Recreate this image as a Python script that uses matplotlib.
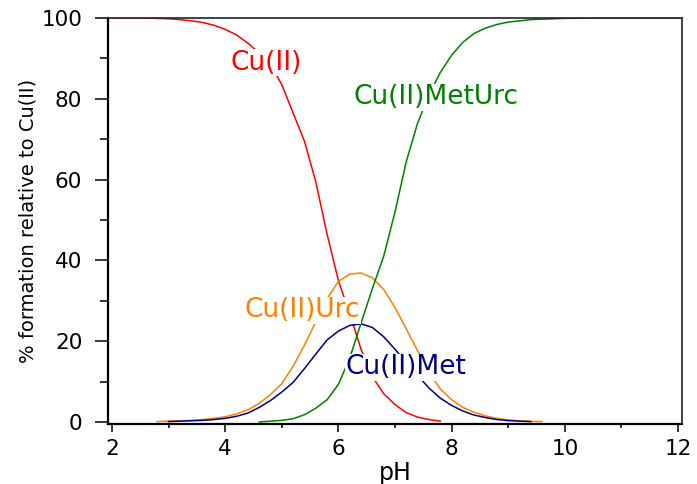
import matplotlib
matplotlib.use("Agg")
import matplotlib.pyplot as plt
from matplotlib.ticker import MultipleLocator

plt.rcParams['font.family'] = ['DejaVu Sans']

# species distribution (pH, % formation)
ph_cu = [2.0, 2.2, 2.4, 2.6, 2.8, 3.0, 3.2, 3.4, 3.6, 3.8, 4.0, 4.2, 4.4, 4.6, 4.8,
         5.0, 5.2, 5.4, 5.6, 5.8, 6.0, 6.2, 6.4, 6.6, 6.8, 7.0, 7.2, 7.4, 7.6, 7.8]
cu = [100, 100, 100, 100, 99.9, 99.8, 99.6, 99.3, 98.9, 98.2, 97.2, 95.8, 93.8, 91.3, 88.5,
      83.5, 76.5, 69.5, 59.5, 46.5, 35.0, 26.8, 18.0, 11.2, 7.0, 4.3, 2.3, 1.2, 0.6, 0.2]

ph_urc = [2.8, 3.0, 3.2, 3.4, 3.6, 3.8, 4.0, 4.2, 4.4, 4.6, 4.8, 5.0, 5.2, 5.4, 5.6, 5.8,
          6.0, 6.2, 6.4, 6.6, 6.8, 7.0, 7.2, 7.4, 7.6, 7.8, 8.0, 8.2, 8.4, 8.6, 8.8,
          9.0, 9.2, 9.4, 9.6]
cu_urc = [0.1, 0.2, 0.3, 0.4, 0.6, 0.9, 1.3, 2.0, 3.0, 4.6, 6.8, 9.5, 13.8, 19.0, 24.8, 30.5,
          34.8, 36.6, 36.9, 35.7, 32.8, 28.3, 23.0, 17.6, 12.2, 8.2, 5.5, 3.6, 2.4, 1.5, 0.9,
          0.5, 0.3, 0.15, 0.1]

ph_met = [3.0, 3.2, 3.4, 3.6, 3.8, 4.0, 4.2, 4.4, 4.6, 4.8, 5.0, 5.2, 5.4, 5.6, 5.8, 6.0,
          6.2, 6.4, 6.6, 6.8, 7.0, 7.2, 7.4, 7.6, 7.8, 8.0, 8.2, 8.4, 8.6, 8.8, 9.0,
          9.2, 9.4]
cu_met = [0.1, 0.2, 0.3, 0.4, 0.6, 0.9, 1.4, 2.2, 3.6, 5.3, 7.4, 9.8, 13.2, 16.8, 20.3, 22.5,
          23.9, 24.3, 23.4, 21.1, 18.0, 14.7, 11.5, 8.4, 5.9, 4.1, 2.7, 1.7, 1.1, 0.6, 0.35,
          0.2, 0.1]

ph_mu = [4.6, 4.8, 5.0, 5.2, 5.4, 5.6, 5.8, 6.0, 6.2, 6.4, 6.6, 6.8, 7.0, 7.2, 7.4, 7.6,
         7.8, 8.0, 8.2, 8.4, 8.6, 8.8, 9.0, 9.4, 10.0, 10.5, 12.0]
cu_met_urc = [0.0, 0.2, 0.4, 0.8, 1.8, 3.4, 5.5, 9.3, 15.8, 24.5, 33.0, 41.0, 52.0, 64.5, 74.0, 81.0,
              86.5, 90.8, 94.0, 96.2, 97.5, 98.4, 99.0, 99.6, 99.9, 100, 100]

fig = plt.figure(figsize=(6.97, 4.84), dpi=100)
ax = fig.add_axes([108/697, 1 - 424/484, 574/697, 406/484])

ax.plot(ph_cu, cu, color='#ff0000', lw=1.1)
ax.plot(ph_urc, cu_urc, color='#ff8000', lw=1.1)
ax.plot(ph_met, cu_met, color='#000080', lw=1.1)
ax.plot(ph_mu, cu_met_urc, color='#008000', lw=1.1)

box = dict(facecolor='white', edgecolor='none', pad=0.3)
ax.text(4.72, 88.9, 'Cu(II)', color='#ff0000', fontsize=19, ha='center', va='center', bbox=box)
ax.text(7.72, 80.4, 'Cu(II)MetUrc', color='#008000', fontsize=19, ha='center', va='center', bbox=box)
ax.text(5.37, 27.7, 'Cu(II)Urc', color='#ff8000', fontsize=19, ha='center', va='center', bbox=box)
ax.text(7.19, 13.6, 'Cu(II)Met', color='#000080', fontsize=19, ha='center', va='center', bbox=box)

ax.set_xlim(1.93, 12.07)
ax.set_ylim(-0.5, 100)
ax.xaxis.set_major_locator(MultipleLocator(2))
ax.xaxis.set_minor_locator(MultipleLocator(1))
ax.yaxis.set_major_locator(MultipleLocator(20))
ax.yaxis.set_minor_locator(MultipleLocator(10))

ax.tick_params(axis='y', which='major', length=9.5, width=1.1, pad=9, labelsize=15.5)
ax.tick_params(axis='y', which='minor', length=6, width=1.1)
ax.tick_params(axis='x', which='major', length=6, width=1.1, pad=5, labelsize=15.5)
ax.tick_params(axis='x', which='minor', length=3, width=1.1)

for side in ['left', 'bottom']:
    ax.spines[side].set_linewidth(1.6)
for side in ['top', 'right']:
    ax.spines[side].set_linewidth(1.2)
    ax.spines[side].set_color('#222222')

ax.set_xlabel('pH', fontsize=17, labelpad=1)
ax.set_ylabel('% formation relative to Cu(II)', fontsize=14, labelpad=3)

fig.savefig('out.png', dpi=100)
